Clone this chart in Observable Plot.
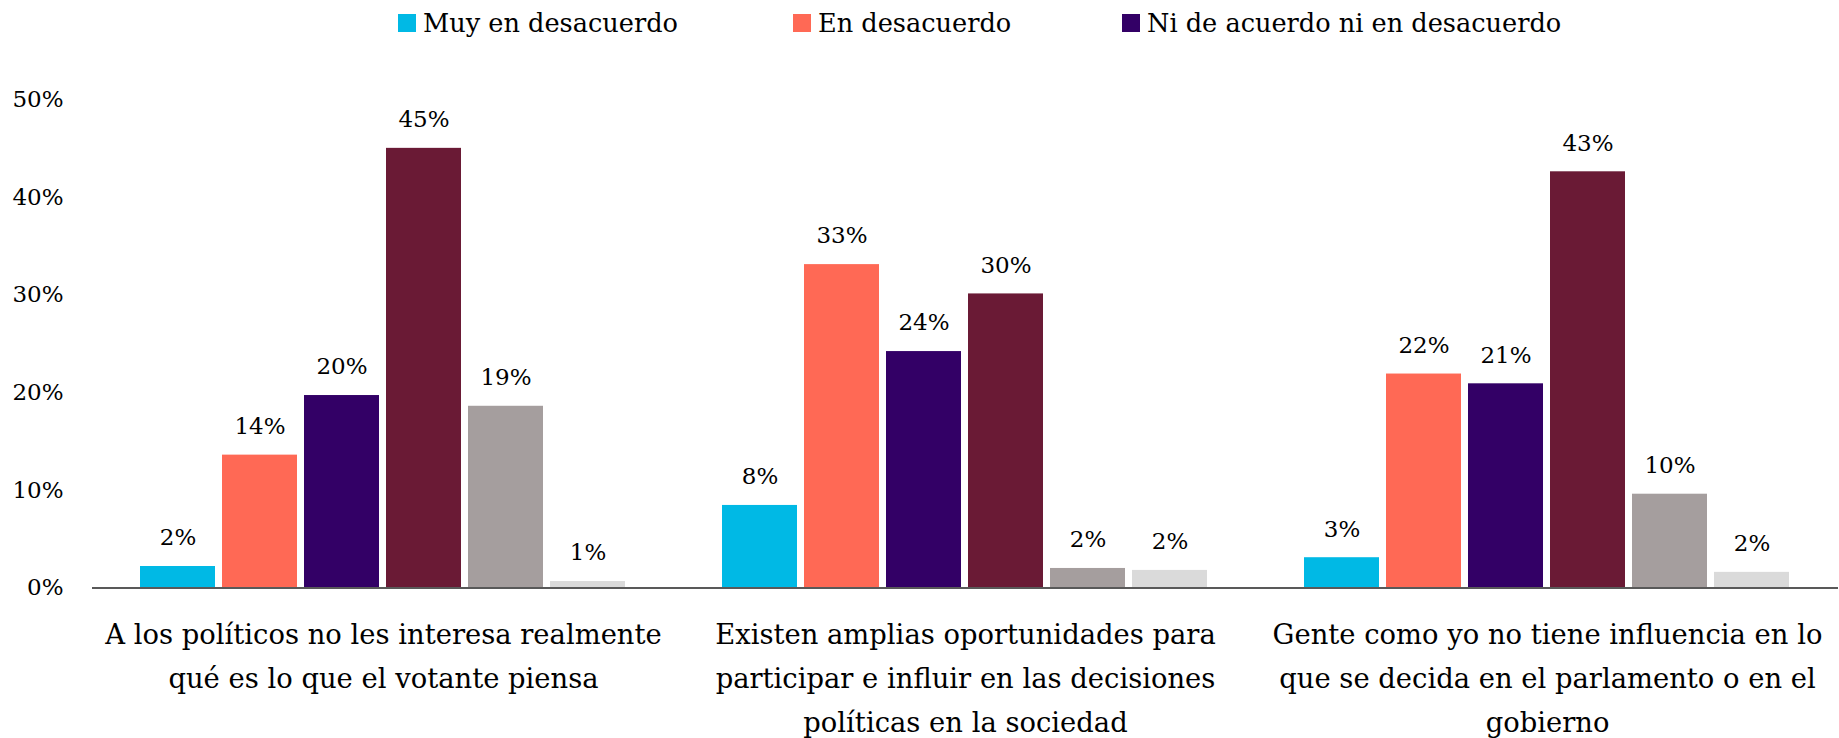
<!DOCTYPE html>
<html><head><meta charset="utf-8">
<script src="https://cdn.jsdelivr.net/npm/d3@7"></script>
<script src="https://cdn.jsdelivr.net/npm/@observablehq/plot@0.6"></script>
<style>
body{margin:0;background:#fff;font-family:"DejaVu Serif",serif;}
#wrap{position:relative;width:1839px;}
#legend{position:relative;height:46px;}
.item{position:absolute;top:10px;display:flex;align-items:center;gap:7px;font-size:25.6px;line-height:26px;color:#000;white-space:nowrap}
.sw{width:18px;height:18px;display:inline-block}
</style></head><body>
<div id="wrap"><div id="legend"></div><div id="chart"></div></div>
<script>
const categories = [
  "A los políticos no les interesa realmente qué es lo que el votante piensa",
  "Existen amplias oportunidades para participar e influir en las decisiones políticas en la sociedad",
  "Gente como yo no tiene influencia en lo que se decida en el parlamento o en el gobierno"
];
const categoryLines = [
  ["A los políticos no les interesa realmente", "qué es lo que el votante piensa"],
  ["Existen amplias oportunidades para", "participar e influir en las decisiones", "políticas en la sociedad"],
  ["Gente como yo no tiene influencia en lo", "que se decida en el parlamento o en el", "gobierno"]
];
const series = ["Muy en desacuerdo", "En desacuerdo", "Ni de acuerdo ni en desacuerdo", "De acuerdo", "Muy de acuerdo", "No sabe / No contesta"];
const colors = ["#00B9E5", "#FF6955", "#330066", "#6A1A35", "#A59E9E", "#DADADA"];
const legendSeries = ["Muy en desacuerdo", "En desacuerdo", "Ni de acuerdo ni en desacuerdo"];
const valuesPoliticos = [0.022, 0.136, 0.197, 0.450, 0.186, 0.0066];
const valuesOportunidades = [0.0845, 0.331, 0.242, 0.301, 0.020, 0.018];
const valuesInfluencia = [0.031, 0.219, 0.209, 0.426, 0.096, 0.016];
const yTicks = [0, 0.1, 0.2, 0.3, 0.4, 0.5];

const valuesByCategory = [valuesPoliticos, valuesOportunidades, valuesInfluencia];
const data = categories.flatMap((c, i) => series.map((s, j) => ({category: c, series: s, value: valuesByCategory[i][j]})));
const pct = d3.format(".0%");

// legend
const legendLeft = [398, 793, 1122];
const legend = document.getElementById("legend");
legendSeries.forEach((s, i) => {
  const it = document.createElement("div");
  it.className = "item";
  it.style.left = legendLeft[i] + "px";
  const sw = document.createElement("span");
  sw.className = "sw";
  sw.style.background = colors[series.indexOf(s)];
  const tx = document.createElement("span");
  tx.textContent = s;
  it.appendChild(sw); it.appendChild(tx);
  legend.appendChild(it);
});

const plot = Plot.plot({
  width: 1839, height: 692,
  marginTop: 53, marginBottom: 150.5, marginLeft: 91, marginRight: 0,
  style: {fontFamily: '"DejaVu Serif", serif', fontSize: "23px", color: "#000", background: "#fff"},
  fx: {domain: categories, paddingInner: 0.158, paddingOuter: 0.079, label: null, axis: null},
  x: {domain: series, paddingInner: 0.085, paddingOuter: 0, axis: null},
  y: {domain: [0, 0.5], axis: null},
  color: {domain: series, range: colors},
  marks: [
    Plot.axisY({ticks: yTicks, tickFormat: pct, tickSize: 0, tickPadding: 75, fontSize: 23, label: null}),
    Plot.axisFx({anchor: "bottom", tickSize: 0, tickPadding: 25, fontSize: 27.4, lineHeight: 1.6,
      tickFormat: d => categoryLines[categories.indexOf(d)].join("\n"), label: null}),
    Plot.barY(data, {fx: "category", x: "series", y: "value", fill: "series", inset: 0}),
    Plot.ruleY([0], {stroke: "#595959", strokeWidth: 2, insetLeft: -46, insetRight: -46}),
    Plot.text(data, {fx: "category", x: "series", y: "value", text: d => pct(d.value), dy: -28.5, lineAnchor: "middle", fontSize: 23})
  ]
});
document.getElementById("chart").appendChild(plot);
</script>
</body></html>
